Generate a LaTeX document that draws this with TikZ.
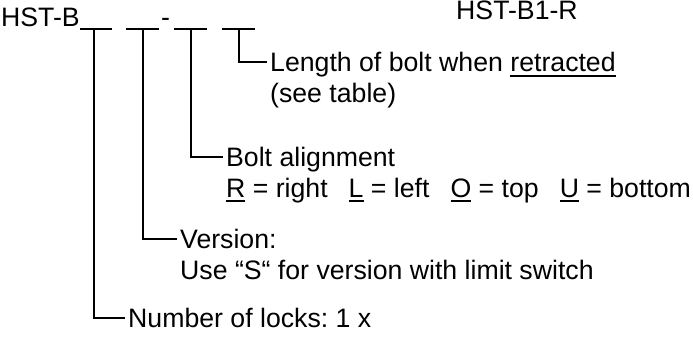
\documentclass[tikz,border=0pt]{standalone}
\usepackage{fontspec}
\setmainfont{Liberation Sans}
\usetikzlibrary{positioning, calc}

\frenchspacing
\newcommand{\ulin}[1]{\setbox0=\hbox{#1}\rlap{\rule[-5pt]{\wd0}{1.8pt}}\box0\relax}

\begin{document}
\begin{tikzpicture}[
  x=1pt, y=-1pt,
  every node/.style={font=\fontsize{26.67}{30.7}\selectfont, inner sep=0pt},
  code/.style={anchor=base west},
  desc/.style={anchor=base west, inner xsep=3pt, text height=19pt, text depth=0pt},
  blank/.style={line width=2pt},
  leader/.style={line width=2pt}
]
\useasboundingbox[fill=white] (0,0) rectangle (693,337);

% Order code
\node[code] (hstb) at (1,26.5) {HST-B};
\node[code] (dash) at (161,26.5) {-};
\node[code] (example) at (456,20) {HST-B1-R};

% Blanks
\foreach \a/\m/\b [count=\i] in {80/94/112, 126/143/159, 174/191/207, 222/239/255} {
  \draw[blank] (\a,29) -- (\b,29);
  \coordinate (t\i) at (\m,29);
}

% Descriptions
\node[desc] (length) at (267,71.5) {Length of bolt when \ulin{retracted}};
\node[desc] (seetable) at ($(length.base west)+(0,30.7)$) {(see table)};
\node[desc] (bolt) at (223,166.5) {Bolt alignment};
\node[desc] (boltcodes) at ($(bolt.base west)+(0,30.7)$) {\ulin{R} = right\hspace{21pt}\ulin{L} = left\hspace{21pt}\ulin{O} = top\hspace{21pt}\ulin{U} = bottom};
\node[desc] (version) at (177,248.5) {Version:};
\node[desc] (switch) at ($(version.base west)+(0,30.7)$) {Use “S“ for version with limit switch};
\node[desc] (locks) at (125,327.5) {Number of locks: 1 x};

% Leaders
\draw[leader] (t4) |- (length.west);
\draw[leader] (t3) |- (bolt.west);
\draw[leader] (t2) |- (version.west);
\draw[leader] (t1) |- (locks.west);

\end{tikzpicture}
\end{document}
